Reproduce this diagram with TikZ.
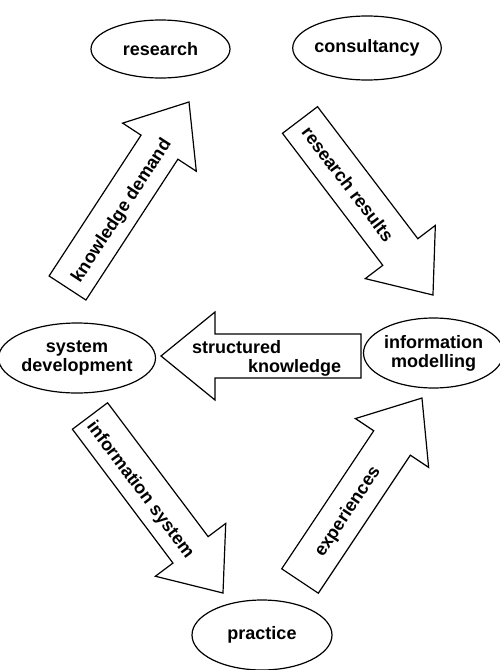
\documentclass[tikz,border=0pt]{standalone}
\usepackage{fontspec}
\setmainfont{Liberation Sans}
\usetikzlibrary{shapes.geometric}
\tikzset{
  lbl/.style={font=\fontsize{18}{19}\selectfont\bfseries, inner sep=0pt},
  oval/.style={draw, line width=1.2pt, ellipse, inner sep=0pt, align=center,
    font=\fontsize{18}{19}\selectfont\bfseries},
  pics/fatarrow/.style={code={
    \draw[line width=1.2pt, line join=miter, fill=white]
      (0,-22) -- ({#1-54},-22) -- ({#1-54},-44) -- (#1,0) -- ({#1-54},44)
      -- ({#1-54},22) -- (0,22) -- cycle;}}
}
\begin{document}
\begin{tikzpicture}[x=1pt,y=-1pt]
\useasboundingbox (0,0) rectangle (500,670);
% ellipses
\node[oval, minimum width=139pt, minimum height=58pt] (research) at (160.5,49) {research};
\node[oval, minimum width=140pt, minimum height=64pt] (consult) at (367,48) {consultancy};
\node[oval, minimum width=140pt, minimum height=70pt] (sysdev) at (77,358) {system\\development};
\node[oval, minimum width=133pt, minimum height=70pt] (infomod) at (433.5,353) {information\\modelling};
\node[oval, minimum width=140pt, minimum height=70pt] (practice) at (262,635) {practice};
% big arrows
\pic[rotate=56.85] (kdarrow) at (67.5,288) {fatarrow=222.2};
\pic[rotate=-52.77] (rrarrow) at (300,120) {fatarrow=219.8};
\pic[rotate=180] (skarrow) at (361,356) {fatarrow=200};
\pic[rotate=-53.08] (isarrow) at (90,416) {fatarrow=221.4};
\pic[rotate=56.31] (exarrow) at (300,581) {fatarrow=219.9};
% labels
\node[lbl, rotate=56.85] (kd) at (122,211) {knowledge demand};
\node[lbl, rotate=-52.77] (rr) at (348,184) {research results};
\node[lbl, align=left, anchor=west] (sk) at (192,358) {structured\\\hspace*{56pt}knowledge};
\node[lbl, rotate=-53.08] (is) at (140,490) {information system};
\node[lbl, rotate=56.31] (ex) at (348,512) {experiences};
\end{tikzpicture}
\end{document}
